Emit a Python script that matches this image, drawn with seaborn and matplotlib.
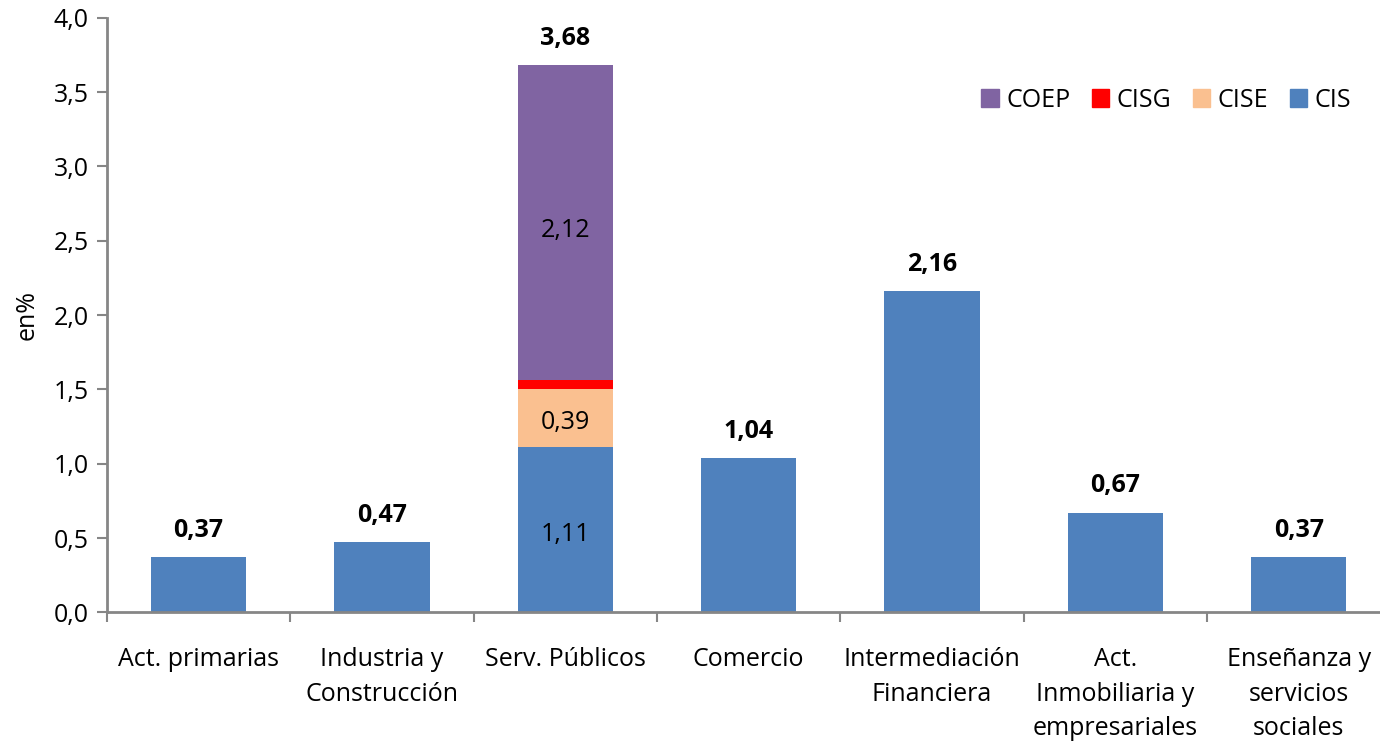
import numpy as np
import pandas as pd
import seaborn as sns
import matplotlib.pyplot as plt
from matplotlib.ticker import FixedLocator
from matplotlib.patches import Patch

categories = ['Act. primarias', 'Industria y\nConstrucción', 'Serv. Públicos', 'Comercio',
              'Intermediación\nFinanciera', 'Act.\nInmobiliaria y\nempresariales',
              'Enseñanza y\nservicios\nsociales']
cis = [0.37, 0.47, 1.11, 1.04, 2.16, 0.67, 0.37]
cise = [0, 0, 0.39, 0, 0, 0, 0]
cisg = [0, 0, 0.06, 0, 0, 0, 0]
coep = [0, 0, 2.12, 0, 0, 0, 0]
totals = [0.37, 0.47, 3.68, 1.04, 2.16, 0.67, 0.37]

colors = {'CIS': '#4F81BD', 'CISE': '#FAC090', 'CISG': '#FF0000', 'COEP': '#8064A2'}

def fmt(v, d):
    return f"{v:.{d}f}".replace('.', ',')

df = pd.DataFrame({'cat': categories, 'CIS': cis, 'CISE': cise, 'CISG': cisg, 'COEP': coep})
df['c1'] = df.CIS
df['c2'] = df.c1 + df.CISE
df['c3'] = df.c2 + df.CISG
df['c4'] = df.c3 + df.COEP

sns.set_style('white')
plt.rcParams['font.family'] = ['Open Sans', 'DejaVu Sans']
plt.rcParams['text.color'] = 'black'
plt.rcParams['axes.labelcolor'] = 'black'
plt.rcParams['xtick.labelcolor'] = 'black'
plt.rcParams['ytick.labelcolor'] = 'black'
FS = 18

fig = plt.figure(figsize=(13.8, 7.44), dpi=100)
ax = fig.add_axes([0.0775, 0.177, 0.93, 0.799])

for col, name in [('c4', 'COEP'), ('c3', 'CISG'), ('c2', 'CISE'), ('c1', 'CIS')]:
    sns.barplot(data=df, x='cat', y=col, color=colors[name], width=0.52,
                saturation=1, ax=ax, linewidth=0)

ax.set_ylim(0, 4.0)
ax.set_xlim(-0.5, 6.5)
ax.set_yticks(np.arange(0, 4.01, 0.5))
ax.set_yticklabels([fmt(v, 1) for v in np.arange(0, 4.01, 0.5)], fontsize=FS)
ax.set_xlabel('')
ax.set_ylabel('en%', fontsize=FS, labelpad=10)
ax.set_xticks(range(len(categories)))
ax.set_xticklabels(categories, fontsize=FS, linespacing=1.5, va='top')
ax.tick_params(axis='x', which='major', length=0, pad=25)
ax.xaxis.set_minor_locator(FixedLocator(np.arange(-0.5, 6.6, 1)))
ax.tick_params(axis='x', which='minor', length=7, width=1.5, color='#868686', direction='out')
ax.tick_params(axis='y', length=7, width=1.5, color='#868686', direction='out', pad=6)
ax.tick_params(bottom=True, left=True, which='both')
for s in ['top', 'right']:
    ax.spines[s].set_visible(False)
for s in ['left', 'bottom']:
    ax.spines[s].set_color('#868686')
    ax.spines[s].set_linewidth(2)

for i, t in enumerate(totals):
    ax.text(i, t + 0.18, fmt(t, 2), ha='center', va='center', fontsize=FS, fontweight='bold')

i = 2
ax.text(i, cis[i] / 2 - 0.03, fmt(cis[i], 2), ha='center', va='center', fontsize=FS)
ax.text(i, cis[i] + cise[i] / 2 - 0.03, fmt(cise[i], 2), ha='center', va='center', fontsize=FS)
ax.text(i, cis[i] + cise[i] + cisg[i] + coep[i] / 2 - 0.05, fmt(coep[i], 2), ha='center', va='center', fontsize=FS)

handles = [Patch(color=colors[n]) for n in ['COEP', 'CISG', 'CISE', 'CIS']]
ax.legend(handles, ['COEP', 'CISG', 'CISE', 'CIS'], ncol=4, frameon=False, fontsize=FS,
          loc='upper right', bbox_to_anchor=(0.987, 0.92), handlelength=0.7, handleheight=0.7,
          columnspacing=0.85, handletextpad=0.3)

fig.savefig('out.png', dpi=100)
